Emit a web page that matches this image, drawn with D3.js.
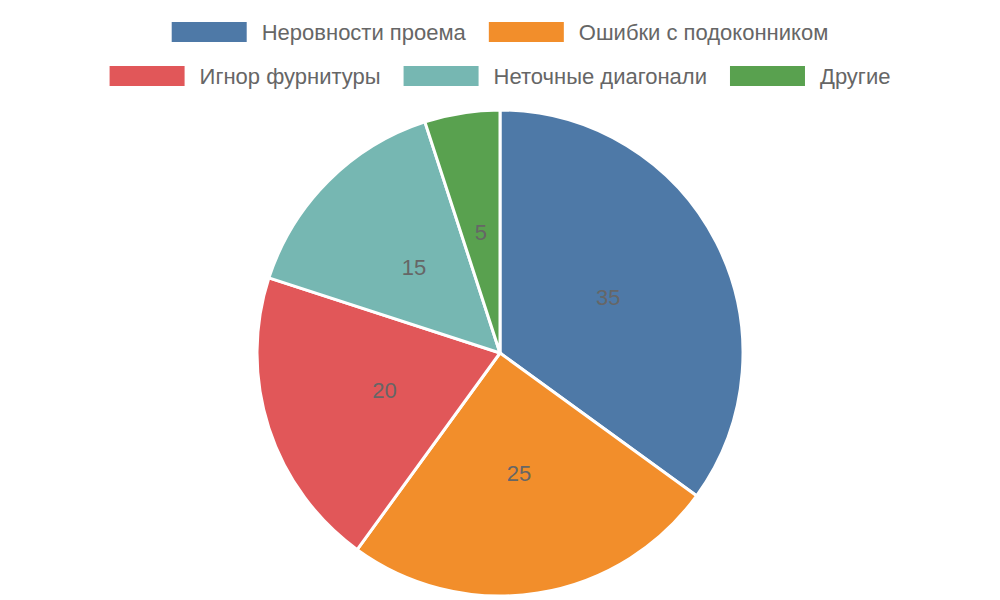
<!DOCTYPE html>
<html><head><meta charset="utf-8">
<script src="https://cdn.jsdelivr.net/npm/d3@7"></script>
<style>body{margin:0;background:#fff}</style></head>
<body><svg id="c" width="1000" height="600"></svg>
<script>
const categories=["Неровности проема","Ошибки с подоконником","Игнор фурнитуры","Неточные диагонали","Другие"];
const values=[35,25,20,15,5];
const colors=["#4e79a7","#f28e2b","#e15759","#76b7b2","#59a14f"];
const rows=[[0,1],[2,3,4]];
const svg=d3.select("#c");
const font="Liberation Sans, Arial, sans-serif";
const cx=500,cy=353,r=243;
const pie=d3.pie().sort(null).value(d=>d)(values);
const arc=d3.arc().innerRadius(0).outerRadius(r);
const lab=d3.arc().innerRadius(r/2).outerRadius(r/2);
const g=svg.append("g").attr("transform",`translate(${cx},${cy})`);
g.selectAll("path").data(pie).join("path").attr("d",arc).attr("fill",(d,i)=>colors[i]).attr("stroke","#fff").attr("stroke-width",3);
g.selectAll("text").data(pie).join("text").attr("transform",d=>`translate(${lab.centroid(d)})`)
 .attr("text-anchor","middle").attr("dominant-baseline","central").attr("font-family",font).attr("font-size",22).attr("fill","#666").text(d=>d.data);
const rowY=[32,76];
rows.forEach((row,ri)=>{
  const lg=svg.append("g");
  let x=0;
  row.forEach(i=>{
    const it=lg.append("g").attr("transform",`translate(${x},0)`);
    it.append("rect").attr("x",0).attr("y",rowY[ri]-10).attr("width",75).attr("height",20).attr("fill",colors[i]);
    const t=it.append("text").attr("x",90).attr("y",rowY[ri]).attr("dominant-baseline","central").attr("font-family",font).attr("font-size",22).attr("fill","#666").text(categories[i]);
    x+=90+t.node().getComputedTextLength()+23;
  });
  const w=x-23;
  lg.attr("transform",`translate(${(1000-w)/2},0)`);
});
</script></body></html>
